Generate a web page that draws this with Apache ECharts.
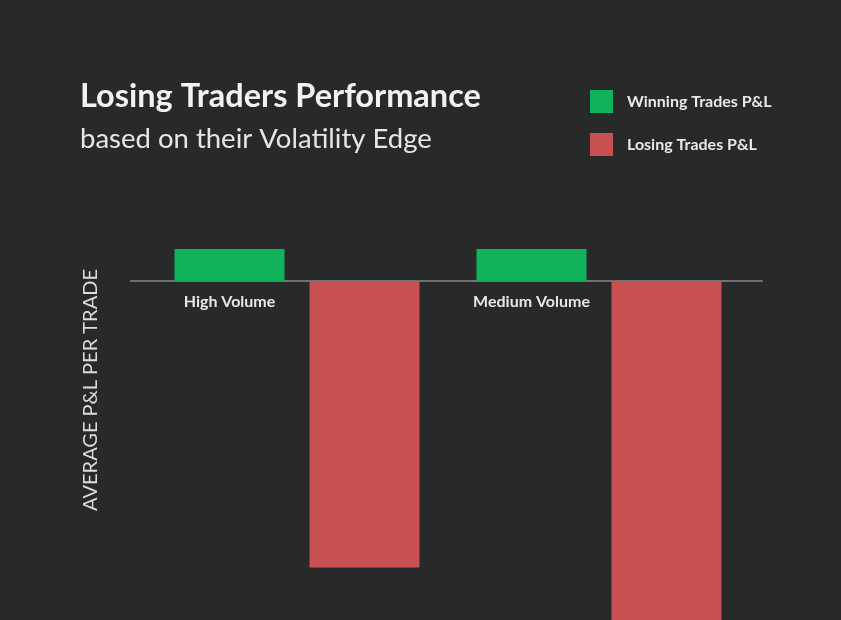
<!DOCTYPE html>
<html>
<head>
<meta charset="utf-8">
<script src="https://cdn.jsdelivr.net/npm/echarts@6/dist/echarts.min.js"></script>
<style>
html,body{margin:0;padding:0;background:#282a29;}
#chart{width:841px;height:620px;}
</style>
</head>
<body>
<div id="chart"></div>
<script>
var categories = ['High Volume', 'Medium Volume'];
var winningPL = [1.0, 1.0];
var losingPL = [-8.95, -12];
var seriesNames = ['Winning Trades P&L', 'Losing Trades P&L'];
var titleText = 'Losing Traders Performance';
var subtitleText = 'based on their Volatility Edge';
var yAxisName = 'AVERAGE P&L PER TRADE';

var chart = echarts.init(document.getElementById('chart'), null, {renderer: 'canvas'});
var FONT = 'Lato';
var option = {
  backgroundColor: '#282a29',
  animation: false,
  title: [
    {text: titleText, left: 80, top: 80, padding: 0, textStyle: {color: '#f2f2f2', fontFamily: FONT, fontSize: 32.5, fontWeight: 'bold'}},
    {text: subtitleText, left: 80, top: 125, padding: 0, textStyle: {color: '#e6e6e6', fontFamily: FONT, fontSize: 27.5, fontWeight: 'normal'}}
  ],
  legend: {
    orient: 'vertical', left: 590, top: 90, itemWidth: 23, itemHeight: 23, itemGap: 20,
    icon: 'rect', padding: 0,
    data: seriesNames,
    textStyle: {color: '#e8e8e8', fontFamily: FONT, fontSize: 16, fontWeight: 'bold', padding: [0, 0, 0, 9]}
  },
  graphic: [{
    type: 'text', x: 91, y: 390, rotation: Math.PI / 2,
    style: {text: yAxisName, fill: '#dcdcdc', font: '20px ' + FONT, textAlign: 'center', textVerticalAlign: 'middle'}
  }],
  grid: [
    {left: 146, right: 91, top: 185, bottom: -13, outerBoundsMode: 'none', containLabel: false},
    {left: 131, right: 79, top: 185, bottom: -13, outerBoundsMode: 'none', containLabel: false}
  ],
  xAxis: [
    {type: 'category', gridIndex: 0, data: categories, position: 'bottom', offset: -352,
     axisLine: {show: false, onZero: false}, axisTick: {show: false},
     axisLabel: {show: true, interval: 0, color: '#e8e8e8', fontFamily: FONT, fontSize: 16, fontWeight: 'bold', margin: 13, padding: [0, 135, 0, 0]}},
    {type: 'category', gridIndex: 1, data: [''],
     axisLine: {show: true, onZero: true, lineStyle: {color: '#707070', width: 2}},
     axisTick: {show: false}, axisLabel: {show: false}}
  ],
  yAxis: [
    {type: 'value', gridIndex: 0, min: -11, max: 3, show: false, splitLine: {show: false}},
    {type: 'value', gridIndex: 1, min: -11, max: 3, show: false, splitLine: {show: false}}
  ],
  series: [
    {name: seriesNames[0], type: 'bar', xAxisIndex: 0, yAxisIndex: 0, data: winningPL,
     barWidth: 110, barGap: '22.7%', itemStyle: {color: '#10b25a'}, z: 3},
    {name: seriesNames[1], type: 'bar', xAxisIndex: 0, yAxisIndex: 0, data: losingPL,
     barWidth: 110, barGap: '22.7%', itemStyle: {color: '#c85052'}, z: 1}
  ]
};
chart.setOption(option);
</script>
</body>
</html>
